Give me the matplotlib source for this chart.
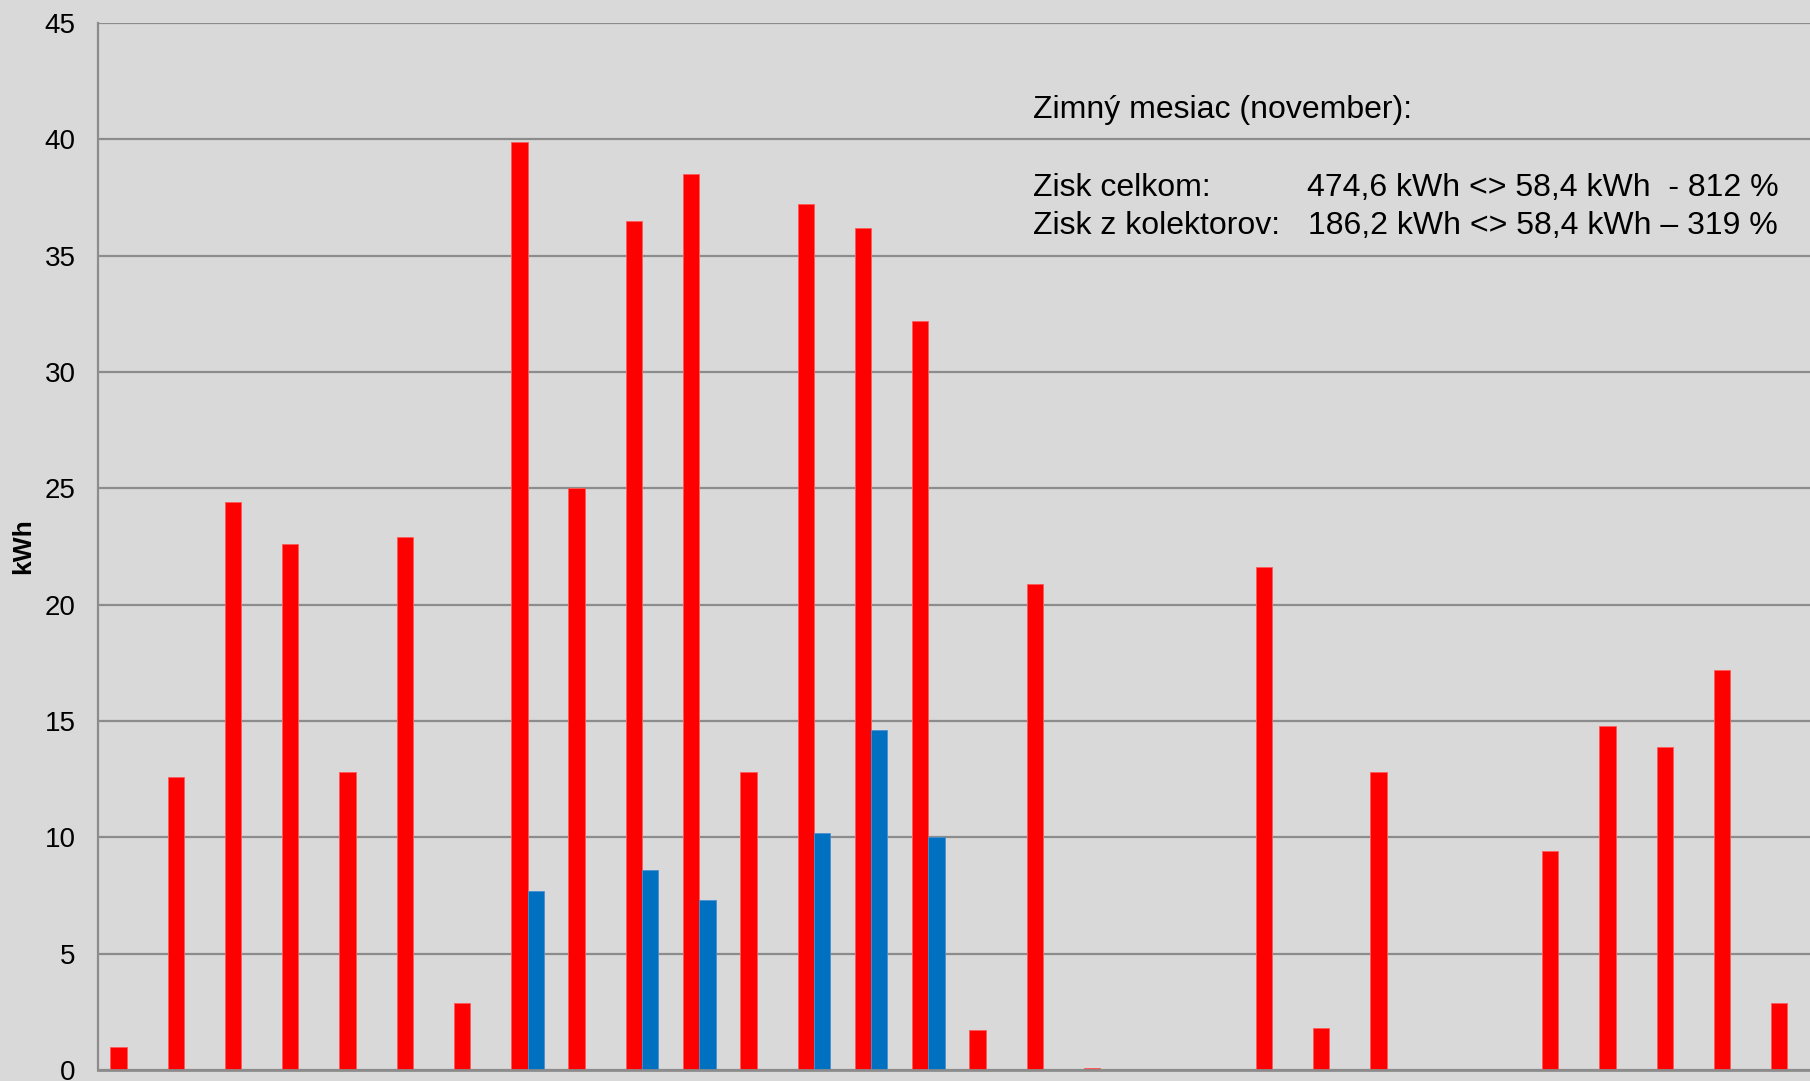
import matplotlib
matplotlib.use("Agg")
import matplotlib.pyplot as plt
import numpy as np

days = list(range(1, 31))
zisk_celkom = [1.0, 12.6, 24.4, 22.6, 12.8, 22.9, 2.9, 39.9, 25.0, 36.5,
               38.5, 12.8, 37.2, 36.2, 32.2, 1.7, 20.9, 0.1, 0.0, 0.0,
               21.6, 1.8, 12.8, 0.0, 0.0, 9.4, 14.8, 13.9, 17.2, 2.9]
zisk_kolektory = [0, 0, 0, 0, 0, 0, 0, 7.7, 0, 8.6,
                  7.3, 0, 10.2, 14.6, 10.0, 0, 0, 0, 0, 0,
                  0, 0, 0, 0, 0, 0, 0, 0, 0, 0]
y_ticks = [0, 5, 10, 15, 20, 25, 30, 35, 40, 45]

W, H = 1810, 1081
fig = plt.figure(figsize=(W / 100, H / 100), dpi=100)
bg = "#d9d9d9"
fig.patch.set_facecolor(bg)

left = 98 / W
bottom = 1 - 1070 / H
top = 1 - 23 / H
ax = fig.add_axes([left, bottom, 1 - left, top - bottom])
ax.set_facecolor(bg)

x = np.array(days, dtype=float)
bw = 0.285
ax.bar(x - bw / 2, zisk_celkom, width=bw, color="#ff0000", zorder=3,
       edgecolor="#ff5a5a", linewidth=0.6)
ax.bar(x + bw / 2, zisk_kolektory, width=bw, color="#0070c0", zorder=3,
       edgecolor="#4a8fd0", linewidth=0.6)

slot_px = 57.27
ax.set_xlim(0.5, 0.5 + (W - 98) / slot_px)
ax.set_ylim(0, 45)
ax.set_yticks(y_ticks)
ax.set_yticklabels([str(t) for t in y_ticks], fontsize=20,
                   family=["Liberation Sans", "DejaVu Sans"])
ax.set_xticks([])
ax.tick_params(axis="y", length=0, pad=16)
ax.yaxis.grid(True, color="#8c8c8c", linewidth=1.6, zorder=1)
ax.set_axisbelow(True)
for s in ["top", "right"]:
    ax.spines[s].set_visible(False)
ax.spines["left"].set_color("#8c8c8c")
ax.spines["left"].set_linewidth(1.6)
ax.spines["bottom"].set_color("#8c8c8c")
ax.spines["bottom"].set_linewidth(2.0)
ax.spines["bottom"].set_zorder(4)

fig.text(23 / W, 1 - 546 / H, "kWh", rotation=90, fontsize=19,
         fontweight="bold", ha="center", va="center",
         family=["Liberation Sans", "DejaVu Sans"])

fam = ["Liberation Sans Narrow", "Liberation Sans", "DejaVu Sans"]
fs = 23
fig.text(1033 / W, 1 - 110 / H, "Zimný mesiac (november):", fontsize=fs,
         ha="left", va="center", family=fam)
fig.text(1033 / W, 1 - 188 / H, "Zisk celkom:", fontsize=fs,
         ha="left", va="center", family=fam)
fig.text(1307 / W, 1 - 188 / H, "474,6 kWh <> 58,4 kWh  - 812 %", fontsize=fs,
         ha="left", va="center", family=fam)
fig.text(1033 / W, 1 - 226 / H, "Zisk z kolektorov:", fontsize=fs,
         ha="left", va="center", family=fam)
fig.text(1308 / W, 1 - 226 / H, "186,2 kWh <> 58,4 kWh – 319 %", fontsize=fs,
         ha="left", va="center", family=fam)

fig.savefig("out.png", dpi=100, facecolor=bg)
